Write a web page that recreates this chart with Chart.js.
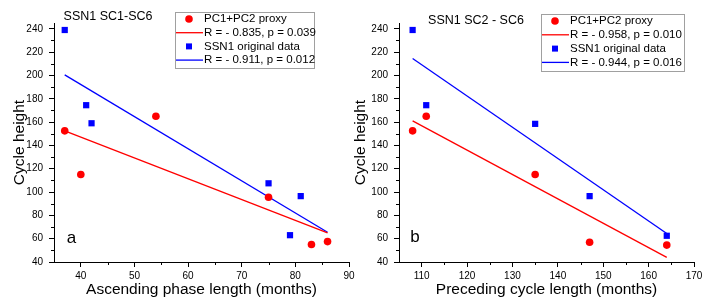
<!DOCTYPE html>
<html>
<head>
<meta charset="utf-8">
<script src="https://cdn.jsdelivr.net/npm/chart.js@4.4.1/dist/chart.umd.min.js"></script>
<style>
  body { margin: 0; background: #fff; }
  .wrap { position: relative; width: 724px; height: 299px; }
  .wrap div { position: absolute; top: 0; height: 299px; }
  #boxA { left: 0; width: 362px; }
  #boxB { left: 340px; width: 384px; }
</style>
</head>
<body>
<div class="wrap">
  <div id="boxA"><canvas id="chartA"></canvas></div>
  <div id="boxB"><canvas id="chartB"></canvas></div>
</div>
<script>
// Painel a: comprimento da fase ascendente
const ascProxyX = [37, 40, 54, 75, 83, 86];
const ascProxyY = [152.5, 115, 165, 95.5, 55, 57.5];
const ascSsnX = [37, 41, 42, 75, 79, 81];
const ascSsnY = [239, 174.5, 159, 107.5, 63, 96.5];
const ascFitX = [37, 86];
const ascProxyFitY = [152.5, 65];
const ascSsnFitY = [200.5, 65.5];
const ascLabels = ['PC1+PC2 proxy', 'R = - 0.835, p = 0.039', 'SSN1 original data', 'R = - 0.911, p = 0.012'];

// Painel b: comprimento do ciclo anterior
const precX = [108, 111, 135, 147, 164];
const precProxyY = [152.5, 165, 115, 57, 54.5];
const precSsnY = [239, 174.5, 158.5, 96.5, 62.5];
const precFitX = [108, 164];
const precProxyFitY = [161, 44];
const precSsnFitY = [214.5, 64.5];
const precLabels = ['PC1+PC2 proxy', 'R = - 0.958, p = 0.010', 'SSN1 original data', 'R = - 0.944, p = 0.016'];

const RED = '#ff0000';
const BLUE = '#0000ff';
const FONT = '"Liberation Sans", Arial, sans-serif';

function toPoints(xs, ys) {
    return xs.map((x, i) => ({ x: x, y: ys[i] }));
}

// marcas menores entre as marcas principais
const minorTicks = {
    id: 'minorTicks',
    afterDraw(chart) {
        const ctx = chart.ctx;
        ctx.save();
        ctx.strokeStyle = '#000';
        ctx.lineWidth = 1;
        ['x', 'y'].forEach(id => {
            const scale = chart.scales[id];
            const ticks = scale.ticks;
            for (let i = 0; i < ticks.length - 1; i++) {
                const v = (ticks[i].value + ticks[i + 1].value) / 2;
                const p = Math.round(scale.getPixelForValue(v)) + 0.5;
                ctx.beginPath();
                if (id === 'x') {
                    ctx.moveTo(p, scale.top);
                    ctx.lineTo(p, scale.top + 3);
                } else {
                    ctx.moveTo(scale.right, p);
                    ctx.lineTo(scale.right - 3, p);
                }
                ctx.stroke();
            }
        });
        ctx.restore();
    }
};

// legenda com moldura dentro da área do gráfico
const boxLegend = {
    id: 'boxLegend',
    afterDraw(chart, args, opts) {
        const ctx = chart.ctx;
        ctx.save();
        ctx.fillStyle = '#fff';
        ctx.fillRect(opts.x, opts.y, opts.w, opts.h);
        ctx.strokeStyle = '#a0a0a0';
        ctx.lineWidth = 1;
        ctx.strokeRect(opts.x + 0.5, opts.y + 0.5, opts.w, opts.h);
        ctx.font = '11.5px ' + FONT;
        ctx.textBaseline = 'middle';
        chart.data.datasets.forEach((ds, i) => {
            const cy = opts.y + opts.first + i * opts.row;
            const cx = opts.x + opts.marker;
            if (ds.showLine) {
                ctx.strokeStyle = ds.borderColor;
                ctx.lineWidth = 1.3;
                ctx.beginPath();
                ctx.moveTo(opts.x + 1, cy);
                ctx.lineTo(opts.x + opts.text - 1, cy);
                ctx.stroke();
            } else if (ds.pointStyle === 'rect') {
                ctx.fillStyle = ds.backgroundColor;
                ctx.fillRect(cx - 3, cy - 3, 6, 6);
            } else {
                ctx.fillStyle = ds.backgroundColor;
                ctx.beginPath();
                ctx.arc(cx, cy, 3.8, 0, Math.PI * 2);
                ctx.fill();
            }
            ctx.fillStyle = '#000';
            ctx.fillText(ds.label, opts.x + opts.text, cy);
        });
        ctx.restore();
    }
};

// título do painel e letra
const panelText = {
    id: 'panelText',
    afterDraw(chart, args, opts) {
        const ctx = chart.ctx;
        ctx.save();
        ctx.fillStyle = '#000';
        ctx.textAlign = 'center';
        ctx.textBaseline = 'middle';
        ctx.font = '12.5px ' + FONT;
        ctx.fillText(opts.title, opts.titleX, opts.titleY);
        ctx.font = '17px ' + FONT;
        ctx.fillText(opts.letter, opts.letterX, opts.letterY);
        ctx.restore();
    }
};

function buildChart(canvasId, cfg) {
    const datasets = [
        {
            label: cfg.labels[0],
            data: toPoints(cfg.proxyX, cfg.proxyY),
            pointStyle: 'circle',
            pointRadius: 3.8,
            borderWidth: 0,
            backgroundColor: RED,
            borderColor: RED
        },
        {
            label: cfg.labels[1],
            data: toPoints(cfg.fitX, cfg.proxyFitY),
            showLine: true,
            pointRadius: 0,
            borderWidth: 1.3,
            borderColor: RED,
            backgroundColor: RED
        },
        {
            label: cfg.labels[2],
            data: toPoints(cfg.ssnX, cfg.ssnY),
            pointStyle: 'rect',
            pointRadius: 4.4,
            borderWidth: 0,
            backgroundColor: BLUE,
            borderColor: BLUE
        },
        {
            label: cfg.labels[3],
            data: toPoints(cfg.fitX, cfg.ssnFitY),
            showLine: true,
            pointRadius: 0,
            borderWidth: 1.3,
            borderColor: BLUE,
            backgroundColor: BLUE
        }
    ];

    return new Chart(document.getElementById(canvasId), {
        type: 'scatter',
        data: { datasets: datasets },
        options: {
            responsive: true,
            maintainAspectRatio: false,
            animation: false,
            layout: { padding: { top: 23, right: cfg.padRight, left: 0, bottom: 0 } },
            plugins: {
                legend: { display: false },
                tooltip: { enabled: false },
                boxLegend: cfg.legend,
                panelText: cfg.text
            },
            scales: {
                x: {
                    type: 'linear',
                    min: cfg.xMin,
                    max: cfg.xMax,
                    afterFit: s => { s.height = 37; },
                    border: { color: '#000', width: 1 },
                    grid: { drawOnChartArea: false, tickLength: 5, tickColor: '#000' },
                    ticks: {
                        stepSize: 10,
                        includeBounds: false,
                        color: '#000',
                        padding: 3,
                        maxRotation: 0,
                        font: { family: FONT, size: 10 }
                    },
                    title: {
                        display: true,
                        text: cfg.xTitle,
                        color: '#000',
                        padding: 0,
                        font: { family: FONT, size: 15.5 }
                    }
                },
                y: {
                    type: 'linear',
                    min: 40,
                    max: 245,
                    afterFit: s => { s.width = cfg.yWidth; },
                    border: { color: '#000', width: 1 },
                    grid: { drawOnChartArea: false, tickLength: 5, tickColor: '#000' },
                    ticks: {
                        stepSize: 20,
                        includeBounds: false,
                        color: '#000',
                        padding: 6,
                        font: { family: FONT, size: 10 }
                    },
                    title: {
                        display: true,
                        text: 'Cycle height',
                        color: '#000',
                        padding: { top: cfg.yTitlePad, bottom: 0 },
                        font: { family: FONT, size: 15.5 }
                    }
                }
            }
        },
        plugins: [minorTicks, boxLegend, panelText]
    });
}

document.addEventListener('DOMContentLoaded', () => {
    buildChart('chartA', {
        labels: ascLabels,
        proxyX: ascProxyX, proxyY: ascProxyY,
        ssnX: ascSsnX, ssnY: ascSsnY,
        fitX: ascFitX, proxyFitY: ascProxyFitY, ssnFitY: ascSsnFitY,
        xMin: 35, xMax: 90,
        xTitle: 'Ascending phase length (months)',
        yWidth: 54, yTitlePad: 10, padRight: 13,
        legend: { x: 175, y: 12, w: 139, h: 56, first: 7, row: 13.7, marker: 14, text: 29 },
        text: { title: 'SSN1 SC1-SC6', titleX: 108, titleY: 16.5, letter: 'a', letterX: 71.5, letterY: 238 }
    });

    buildChart('chartB', {
        labels: precLabels,
        proxyX: precX, proxyY: precProxyY,
        ssnX: precX, ssnY: precSsnY,
        fitX: precFitX, proxyFitY: precProxyFitY, ssnFitY: precSsnFitY,
        xMin: 105, xMax: 170,
        xTitle: 'Preceding cycle length (months)',
        yWidth: 59, yTitlePad: 11.5, padRight: 30,
        legend: { x: 201, y: 14, w: 143, h: 57, first: 7, row: 13.8, marker: 14, text: 29 },
        text: { title: 'SSN1 SC2 - SC6', titleX: 136, titleY: 21, letter: 'b', letterX: 75, letterY: 237 }
    });
});
</script>
</body>
</html>
